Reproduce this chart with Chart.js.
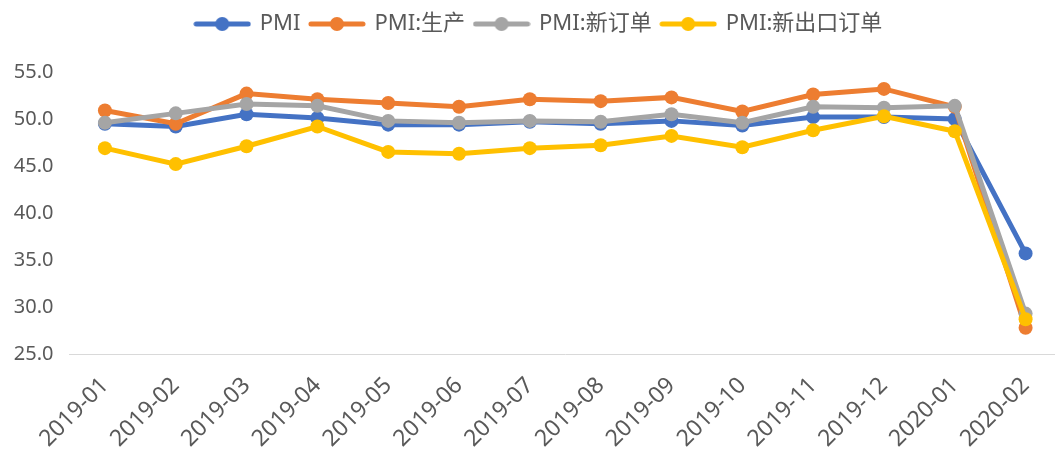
<!DOCTYPE html>
<html>
<head>
<meta charset="utf-8">
<script src="https://cdn.jsdelivr.net/npm/chart.js@4/dist/chart.umd.min.js"></script>
<style>
  html, body { margin: 0; padding: 0; background: #ffffff; overflow: hidden; }
  #wrap { width: 1068px; height: 453px; position: relative; }
</style>
</head>
<body>
<div id="wrap"><canvas id="c"></canvas></div>
<script>
const categories = ["2019-01","2019-02","2019-03","2019-04","2019-05","2019-06","2019-07","2019-08","2019-09","2019-10","2019-11","2019-12","2020-01","2020-02"];
const seriesNames = ["PMI", "PMI:生产", "PMI:新订单", "PMI:新出口订单"];
const pmi        = [49.5, 49.2, 50.5, 50.1, 49.4, 49.4, 49.7, 49.5, 49.8, 49.3, 50.2, 50.2, 50.0, 35.7];
const production = [50.9, 49.5, 52.7, 52.1, 51.7, 51.3, 52.1, 51.9, 52.3, 50.8, 52.6, 53.2, 51.3, 27.8];
const newOrders  = [49.6, 50.6, 51.6, 51.4, 49.8, 49.6, 49.8, 49.7, 50.5, 49.6, 51.3, 51.2, 51.4, 29.3];
const exportOrders = [46.9, 45.2, 47.1, 49.2, 46.5, 46.3, 46.9, 47.2, 48.2, 47.0, 48.8, 50.3, 48.7, 28.7];
const yTicks = [25, 30, 35, 40, 45, 50, 55];

const colors = ["#4472C4", "#ED7D31", "#A5A5A5", "#FFC000"];
const FONT = '"Noto Sans", "Noto Sans CJK SC", sans-serif';
const TEXT = "#595959";

function legendMarker(color) {
  const cv = document.createElement("canvas");
  cv.width = 58; cv.height = 16;
  const g = cv.getContext("2d");
  g.strokeStyle = color; g.lineWidth = 5; g.lineCap = "round";
  g.beginPath(); g.moveTo(3, 8); g.lineTo(55, 8); g.stroke();
  g.fillStyle = color;
  g.beginPath(); g.arc(29, 8, 7, 0, Math.PI * 2); g.fill();
  return cv;
}
const markers = colors.map(legendMarker);

const seriesData = [pmi, production, newOrders, exportOrders];
const datasets = seriesData.map((d, i) => ({
  label: seriesNames[i],
  data: d,
  borderColor: colors[i],
  backgroundColor: colors[i],
  borderWidth: 5,
  pointRadius: 7,
  pointHoverRadius: 7,
  pointBorderWidth: 0,
  pointBackgroundColor: colors[i],
  tension: 0,
  order: 3 - i
}));

const legendSpace = {
  id: "legendSpace",
  beforeLayout(chart) {
    const lg = chart.legend;
    if (lg && !lg._patched) {
      const f = lg.fit;
      lg.fit = function () { f.call(this); this.height += 27; };
      lg._patched = true;
    }
  }
};

new Chart(document.getElementById("c"), {
  type: "line",
  data: { labels: categories, datasets },
  plugins: [legendSpace],
  options: {
    responsive: true,
    maintainAspectRatio: false,
    animation: false,
    layout: { padding: { left: 10, right: 0, top: 3, bottom: 0 } },
    plugins: {
      tooltip: { enabled: false },
      legend: {
        position: "top",
        align: "center",
        labels: {
          usePointStyle: true,
          pointStyleWidth: 53,
          boxHeight: 16,
          padding: 10,
          color: TEXT,
          font: { family: FONT, size: 22 },
          sort: (a, b) => a.datasetIndex - b.datasetIndex,
          generateLabels: (chart) => {
            const items = Chart.defaults.plugins.legend.labels.generateLabels(chart);
            items.forEach(it => { it.pointStyle = markers[it.datasetIndex]; });
            return items;
          }
        }
      }
    },
    scales: {
      x: {
        offset: true,
        afterFit: (axis) => { axis.height = 99; },
        grid: { display: false },
        border: { display: true, color: "#D9D9D9", width: 1 },
        ticks: {
          color: TEXT,
          font: { family: FONT, size: 23 },
          minRotation: 45,
          maxRotation: 45,
          autoSkip: false,
          padding: 10
        }
      },
      y: {
        min: 25,
        max: 55,
        afterBuildTicks: (axis) => { axis.ticks = yTicks.map(v => ({ value: v })); },
        afterFit: (axis) => { axis.width = 59.5; },
        grid: { display: false },
        border: { display: false },
        ticks: {
          color: TEXT,
          font: { family: FONT, size: 20 },
          padding: 8,
          callback: (v) => Number(v).toFixed(1)
        }
      }
    }
  }
});
</script>
</body>
</html>
